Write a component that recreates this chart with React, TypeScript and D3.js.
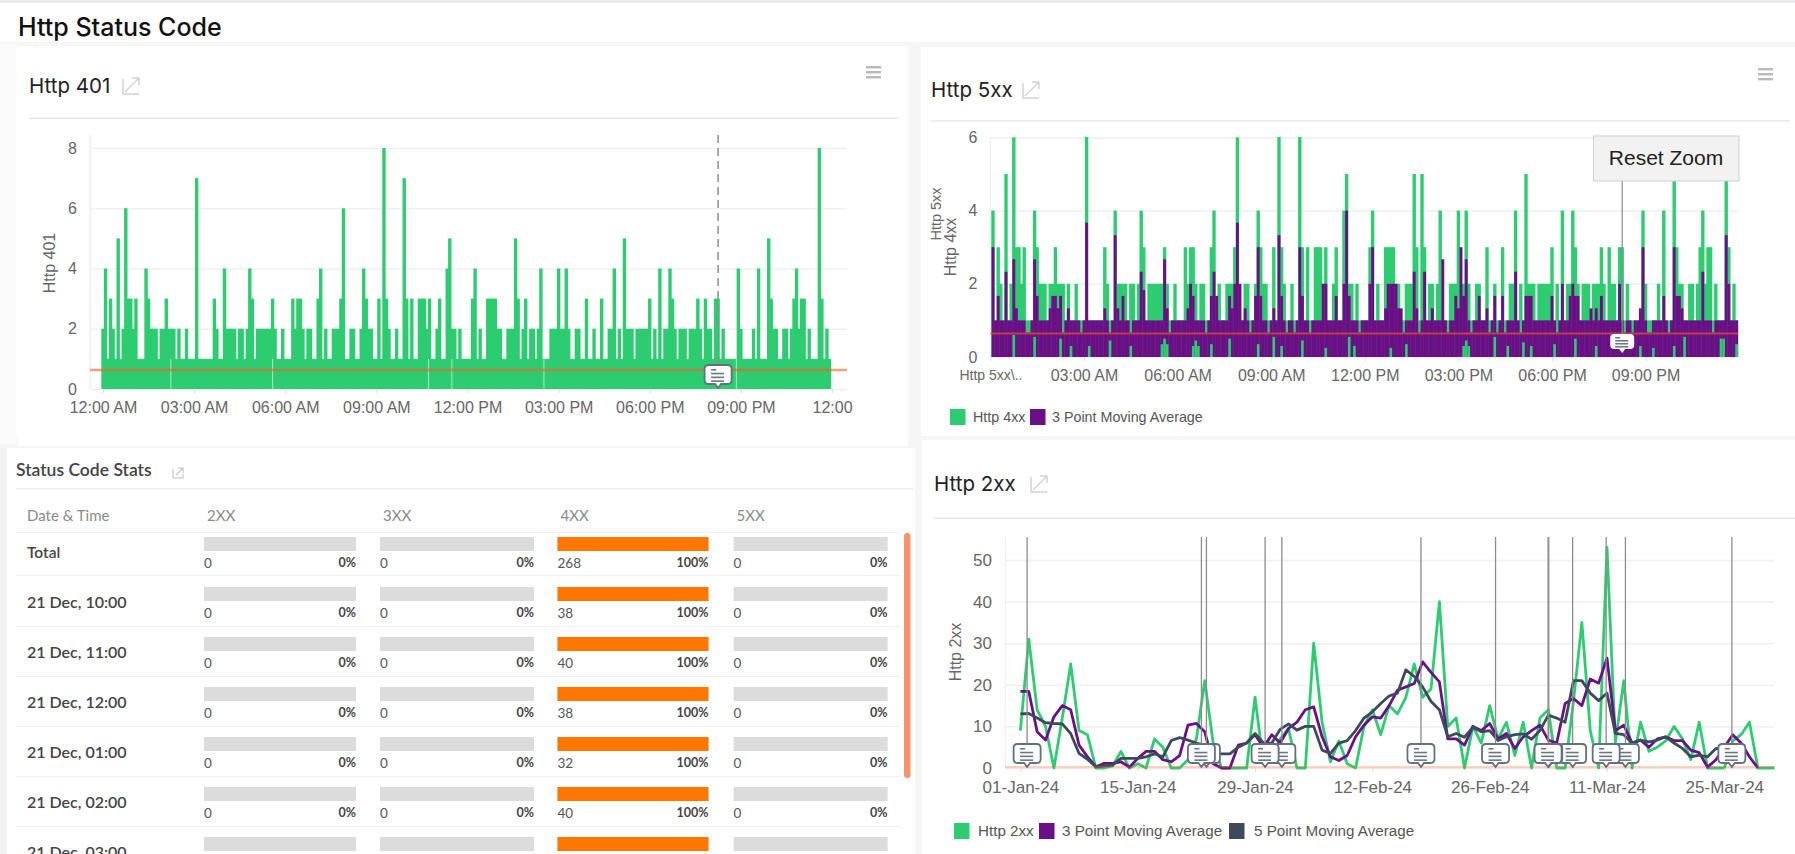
import React, { useRef, useEffect } from "react";
import * as d3 from "d3";

// 5 minute slots, Http 401 panel (Http 4xx panel reuses them, zoomed one slot in)
const http401 = [
  2,4,1,3,2,1,5,1,2,6, 3,3,2,3,1,1,1,4,3,2, 2,2,1,2,2,3,2,2,2,1, 2,1,1,2,1,1,1,7,1,1,
  1,1,1,1,3,2,1,1,4,2, 2,2,2,1,2,2,1,2,4,3, 1,2,2,2,2,2,2,3,2,1, 1,2,1,1,1,3,2,3,3,2,
  1,2,2,1,1,3,4,1,2,1, 1,2,2,2,3,6,1,1,2,2, 1,1,2,4,3,2,2,1,1,3, 1,8,3,2,1,1,2,1,1,7,
  3,1,3,1,1,3,3,3,2,3, 1,1,2,3,1,1,4,5,2,2, 1,2,1,1,1,1,3,4,1,2, 1,1,3,3,3,3,2,2,1,1,
  2,2,2,5,3,1,2,3,1,2, 2,1,2,4,1,1,1,2,2,2, 4,2,2,4,2,1,1,2,2,1, 1,3,1,1,2,1,1,3,1,1,
  2,2,4,1,2,1,5,2,2,2, 1,2,2,2,2,2,3,1,2,1, 4,1,2,2,4,3,2,1,2,2, 2,1,2,2,2,3,2,1,3,2,
  2,1,3,3,1,2,1,1,1,1, 1,4,2,1,1,1,1,2,1,4, 1,1,1,5,3,2,2,1,1,2, 2,1,2,3,4,2,3,3,1,2,
  1,1,1,8,3,1,2,1,
];
const http4xx = http401.map((v, i) => (i === 166 ? 5 : v));
const http4xxAverage = [
  0,3,1,1.67,1,1,2.33,1,1,2.67, 1.33,1,1,1,0.67,0.67,1,2.67,1.67,1,
  1,1,1,1.33,1.67,1.67,1.33,1.67,0.67,1, 1.33,1,1,1,1,0.67,1,3.67,1,1,
  1,1,1,1,1.33,1,0.67,1,3.33,1.33, 1,1.67,1,1,0.67,1,1,1,2.33,1.83,
  1,1,1,1,1,1,1,2.67,1.33,0.67, 1,1,1,1,1,1,1.33,2,1.67,1,
  1,1,1,0.67,1,1.67,2.33,1.67,1,1, 1,1,1.67,1.33,2,3.67,2,1,1.33,1,
  0.67,1,1.67,3,1.67,1,1,0.67,1,1.33, 1,3.33,1.67,1,0.67,1,1,0.67,1,3,
  1.67,1,1,0.67,1,1,1,1,2,2, 1,1,1,1.67,1,1,2,4,1.67,1,
  1,1,0.67,1,1,1,2,3,1,1, 1,1,1.33,2,2,2,2,1.33,1.33,0.67,
  1,1,1,2.33,1.33,0.67,1,2.33,1,1, 1.33,1,1,1,2.67,1,0.67,1,1,1.67,
  1.33,3,1.67,2.67,1,0.67,1,1,1.67,1, 1,1.33,0.67,1,1.67,0.67,1,1.67,0.67,1,
  1,1,2.33,1,0.67,1,1.67,1.67,1.67,1, 1,1,1,1,1,1,1.67,1,0.67,1,
  2,1,1,1.67,2,1.67,1.67,1,1,1, 1,1.33,1,1.33,1,1.67,1,1,1,1,
  1,1,2,1,0.67,1,1,0.67,1,1, 1.33,3,1,0.67,0.67,1,1,1,1,1.67,
  1,0.67,1,3,1.67,1.67,1.33,1,1,1, 1,1,1,1,2.33,1,1,1,0.67,1,
  1,1,1,3.33,2,1,1,1,
];
// slots where the green still shows under the purple, and how far up it shows
const averageLowSlots = [9,17,27,31,38,46,54,66,67,68,78,79,80,85,92,103,109,112,120,129,138,140,154,160,182,183,184,194,199,205,208,217,225,233,250,255,263,267,281,282,287];
const averageLowValues = [0.6,0.55,0.5,0.3,0.3,0.45,0.3,0.35,0.5,0.35,0.3,0.45,0.3,0.35,0.5,0.35,0.55,0.3,0.45,0.25,0.55,0.3,0.25,0.35,0.3,0.45,0.3,0.55,0.3,0.4,0.3,0.35,0.5,0.3,0.3,0.25,0.3,0.55,0.5,0.5,0.35];
const slotGapMinutes = [134,335,643,689,871,1251];
const annotationHour = 20.25;
const http401Average = 0.63;
const http4xxLineValue = 0.64;

const dailyDayTicks = [0,14,28,42,56,70,84];
const dailyTickLabels = ["01-Jan-24","15-Jan-24","29-Jan-24","12-Feb-24","26-Feb-24","11-Mar-24","25-Mar-24"];
const http2xx = [
  9,31,14,10,0,12,25,9,8,0, 0,0.5,4,0,1,0,7,5,0,0, 2,7,21,6,0,0,0,0,17,1,
  3,7,9.5,0,0,30,11,1.5,6.5,1, 0,10,14,8,15,13,17,25,17,19, 40,10,12,0,10,6,15,7,11,3,
  11,0,12,14,0,0,16,35,9,0, 53,6,21,0,11,4,5,6.5,10,7, 2,11,0,0,0,6.5,8,11,0,0,0,
];
const http2xx3pt = [
  18.4,18.4,8.7,6.7,12.3,15,14,5.5,2.7,0.3, 1.1,1.1,1.5,0.2,2.3,4,4,2,1.5,3,
  10.3,10.7,8.7,1,0,0,5.5,6,8,5, 8,6,9.5,11,14,14.7,7.5,2.7,1.8,3,
  7.5,10.3,12.3,12,15,18.7,19.5,20.3,25.5,23, 20.7,7,7,5.5,10,9,10.7,7,8.3,4.7,
  7.5,9,10.3,6.7,6,15.5,16.7,15,21.4,20.4, 26.4,9,10.3,6,6.7,5,7,7.5,6.6,6.6,
  4.3,3.7,0.2,2,5,8,6,2.7,0,
];
const http2xx5pt = [
  13,13.1,12,10.9,10.7,10.6,8.3,3.5,2.1,0.3, 0.5,0.7,2.3,2.3,2.3,2.7,3.4,2.7,6.6,7.3,
  6.7,6,5.5,3.5,3.4,3.4,5,6,8.3,6, 6,9.3,10.6,9.1,10,10,4.3,3.5,6,6.6,
  9,12,13.5,15.5,17.3,18,23.6,22,19.5,16, 14,7.5,8.3,7.4,9.8,8.7,9,6.6,7.5,8,
  8.2,6.9,9,12.7,12,11,21,21,18,16.2, 18,8.3,8,6,6.7,6.3,6.7,7.5,6,4.7,
  2.7,3.1,2.7,4.7,4.5,5,
];
const annotationDays = [0.8,21.6,22.2,29.2,31.2,47.8,56.7,62.97,63.05,65.9,69.9,72.2,84.9];
const http2xxLineValue = 0.2;

const tableColumns = ["2XX","3XX","4XX","5XX"];
const tableRows = ["Total","21 Dec, 10:00","21 Dec, 11:00","21 Dec, 12:00","21 Dec, 01:00","21 Dec, 02:00","21 Dec, 03:00"];
// the 03:00 row is cut off by the page, its numbers cannot be read
const count2xx = [0,0,0,0,0,0];
const count3xx = [0,0,0,0,0,0];
const count4xx = [268,38,40,38,32,40];
const count5xx = [0,0,0,0,0,0];
const percent2xx = [0,0,0,0,0,0,0];
const percent3xx = [0,0,0,0,0,0,0];
const percent4xx = [100,100,100,100,100,100,100];
const percent5xx = [0,0,0,0,0,0,0];

const hourTicks = [0,3,6,9,12,15,18,21,24];
const hourLabels = ["12:00 AM","03:00 AM","06:00 AM","09:00 AM","12:00 PM","03:00 PM","06:00 PM","09:00 PM","12:00"];
const zoomedLabels = ["Http 5xx\\..","03:00 AM","06:00 AM","09:00 AM","12:00 PM","03:00 PM","06:00 PM","09:00 PM"];

const GREEN = "#2ecc71";
const PURPLE = "#6b0f86";
const SLATE = "#3d4a5c";
const ORANGE = "#ff5a1e";
const SANS = "'Liberation Sans', Arial, sans-serif";
const TITLE = "Inter, 'Liberation Sans', sans-serif";
const LATO = "Lato, sans-serif";

const dayStart = new Date(2023, 11, 21, 0, 0);
const slotTime = (i: number) => d3.timeMinute.offset(dayStart, i * 5);
const hourTime = (h: number) => d3.timeMinute.offset(dayStart, h * 60);
const jan1 = new Date(2024, 0, 1);
const dayTime = (d: number) => new Date(+jan1 + d * 864e5);

const x401 = d3.scaleTime().domain([dayStart, hourTime(24)]).range([103, 832]);
const y401 = d3.scaleLinear().domain([0, 8]).range([389, 148]);
const x4xx = d3.scaleTime().domain([dayStart, hourTime(24)]).range([990.4, 1739.2]);
const y4xx = d3.scaleLinear().domain([0, 6]).range([357, 137.4]);
const x2xx = d3.scaleTime().domain([jan1, dayTime(90)]).range([1020.4, 1774.6]);
const y2xx = d3.scaleLinear().domain([0, 50]).range([768, 560]);

const BAR_W = 3.4;
const AVG_W = 2.9;

const AxisBottom = ({ scale, values, labels, y, size, firstSize }: any) => {
  const ref = useRef<SVGGElement>(null);
  useEffect(() => {
    const axis = d3
      .axisBottom(scale)
      .tickValues(values)
      .tickSize(4)
      .tickPadding(9)
      .tickFormat((_: any, i: number) => labels[i]);
    const g = d3.select(ref.current as SVGGElement).call(axis as any);
    g.select(".domain").remove();
    g.selectAll(".tick line").attr("stroke", "#dedede");
    g.selectAll(".tick text")
      .attr("fill", "#666")
      .style("font-family", SANS)
      .style("font-size", (_: any, i: number) => (i === 0 && firstSize ? firstSize : size) + "px");
  }, []);
  return <g ref={ref} transform={`translate(0,${y})`} />;
};

const AxisLeft = ({ scale, values, x, size, gridTo }: any) => {
  const ref = useRef<SVGGElement>(null);
  useEffect(() => {
    const axis = d3
      .axisLeft(scale)
      .tickValues(values)
      .tickSize(0)
      .tickPadding(13)
      .tickFormat(d3.format("d") as any);
    const g = d3.select(ref.current as SVGGElement).call(axis as any);
    g.select(".domain").remove();
    g.selectAll(".tick line")
      .attr("x2", gridTo - x)
      .attr("stroke", "#f0f0f0")
      .attr("stroke-width", 1.6);
    g.selectAll(".tick text")
      .attr("fill", "#666")
      .style("font-family", SANS)
      .style("font-size", size + "px");
  }, []);
  return <g ref={ref} transform={`translate(${x},0)`} />;
};

const PanelTitle = ({ x, y, text, iconX, lineTo, lineY, size = 20.5 }: any) => (
  <g>
    <text x={x} y={y} fontFamily={TITLE} fontSize={size} fill="#222">
      {text}
    </text>
    <path
      d={`M${iconX} ${y - 14}v15h16 M${iconX + 9} ${y - 15}h7 M${iconX + 16} ${y - 15}v7 M${iconX + 2} ${y - 1}L${iconX + 16} ${y - 15}`}
      fill="none"
      stroke="#d2d2d2"
      strokeWidth={1.4}
    />
    <rect x={x} y={lineY} width={lineTo - x} height={1.6} fill="#e9e9e9" />
  </g>
);

const Menu = ({ x, y }: any) => (
  <g fill="#b9b9b9">
    {[0, 5, 10].map((d) => (
      <rect key={d} x={x} y={y + d} width={15} height={2.4} />
    ))}
  </g>
);

const Note = ({ cx, bottom, border }: any) => {
  const w = border ? 27 : 24;
  const h = border ? 19 : 15;
  const top = bottom - h - 4;
  return (
    <g>
      <path
        d={`M${cx - w / 2 + 4} ${top}h${w - 8}q4 0 4 4v${h - 8}q0 4 -4 4h${-(w / 2 - 7)}l-3 4l-3 -4h${-(w / 2 - 7)}q-4 0 -4 -4v${-(h - 8)}q0 -4 4 -4z`}
        fill="#fff"
        stroke={border ? "#647080" : "none"}
        strokeWidth={1.8}
      />
      {[
        [0.25, 5],
        [0.45, 13],
        [0.65, 13],
        [0.85, 13],
      ].map(([f, len], i) => (
        <rect
          key={i}
          x={cx - 7}
          y={top + h * f - 0.8}
          width={len}
          height={1.6}
          fill="#6b7683"
        />
      ))}
    </g>
  );
};

const Legend = ({ items, y, size }: any) => (
  <g>
    {items.map((d: any) => (
      <g key={d.label}>
        <rect x={d.x} y={y - 8} width={15.5} height={16} fill={d.color} />
        <text x={d.textX} y={y + 5} fontFamily={SANS} fontSize={size} fill="#555">
          {d.label}
        </text>
      </g>
    ))}
  </g>
);

const StatsTable = () => {
  const rowY = d3.scaleLinear().domain([0, 1]).range([537, 587]);
  const colX = d3.scaleOrdinal<string, number>().domain(tableColumns).range([204, 380, 557.5, 733.6]);
  const colW = d3.scaleOrdinal<string, number>().domain(tableColumns).range([152, 154, 151, 154]);
  const counts = [count2xx, count3xx, count4xx, count5xx];
  const percents = [percent2xx, percent3xx, percent4xx, percent5xx];
  const seps = [532, 575, 626, 676, 726, 776, 826];
  return (
    <g fontFamily={LATO}>
      <text x={16} y={476} fontSize={17.5} fontWeight={600} fill="#444">
        Status Code Stats
      </text>
      <path d="M173 469v9h10v-4 M178 468h5v5 M176 475l7-7" fill="none" stroke="#c4c4c4" strokeWidth={1.1} />
      <rect x={16} y={488} width={898} height={1.6} fill="#ececec" />
      <text x={27} y={521} fontSize={15} fill="#8a8a8a">
        Date &amp; Time
      </text>
      {tableColumns.map((c) => (
        <text key={c} x={colX(c) + 3} y={521} fontSize={15} fill="#8a8a8a">
          {c}
        </text>
      ))}
      {seps.map((y) => (
        <rect key={y} x={16} y={y} width={885} height={1} fill="#f1f1f1" />
      ))}
      {tableRows.map((row, r) => (
        <g key={row}>
          <text x={27} y={rowY(r) + 21} fontSize={r === 0 ? 15.5 : 16} fontWeight={600} fill="#444">
            {row}
          </text>
          {tableColumns.map((c, k) => {
            const w = d3.scaleLinear().domain([0, 100]).range([0, colW(c)]);
            return (
              <g key={c}>
                <rect x={colX(c)} y={rowY(r)} width={colW(c)} height={14} fill="#dcdcdc" />
                <rect x={colX(c)} y={rowY(r)} width={w(percents[k][r])} height={14} fill="#ff7700" />
                {r < counts[k].length && (
                  <>
                    <text x={colX(c)} y={rowY(r) + 31} fontSize={13.5} fill="#555">
                      {counts[k][r]}
                    </text>
                    <text
                      x={colX(c) + colW(c)}
                      y={rowY(r) + 30}
                      textAnchor="end"
                      fontSize={12.5}
                      fontWeight={700}
                      fill="#444"
                    >
                      {percents[k][r]}%
                    </text>
                  </>
                )}
              </g>
            );
          })}
        </g>
      ))}
      <rect x={904} y={533} width={6.5} height={245} rx={3} fill="#f4956a" />
    </g>
  );
};

export default function App() {
  const hourValues = hourTicks.map(hourTime);
  const line2xx = d3
    .line<number>()
    .x((_, i) => x2xx(dayTime(i)))
    .y((v) => y2xx(v));

  const annotationX401 = x401(hourTime(annotationHour));
  const annotationX4xx = x4xx(hourTime(annotationHour));

  return (
    <svg
      width={1795}
      height={854}
      style={{ position: "absolute", left: 0, top: 0, display: "block" }}
    >
      <defs>
        <clipPath id="clip4xx">
          <rect x={985} y={137} width={760} height={221} />
        </clipPath>
      </defs>
      <rect width={1795} height={854} fill="#fff" />
      <rect width={1795} height={3} fill="#e9ebef" />
      <rect x={0} y={42} width={1795} height={5} fill="#f6f6f7" />
      <rect x={908} y={44} width={13} height={396} fill="#f6f6f7" />
      <rect x={0} y={436} width={1795} height={12} fill="#f6f6f7" />
      <rect x={0} y={44} width={17} height={400} fill="#fbfbfb" />
      <rect x={0} y={448} width={7} height={406} fill="#f4f4f5" />
      <rect x={915} y={440} width={8} height={414} fill="#f6f6f7" />
      <rect x={922} y={440} width={873} height={414} fill="#fff" />
      <rect x={18} y={46} width={890} height={400} fill="#fff" />
      <rect x={7} y={449} width={908} height={405} fill="#fff" />

      <text x={18} y={36} fontFamily={TITLE} fontSize={25} fontWeight={500} fill="#111">
        Http Status Code
      </text>

      {/* Http 401 */}
      <PanelTitle x={29} y={93} text="Http 401" iconX={123} lineTo={898} lineY={117.5} />
      <Menu x={866} y={66} />
      <rect x={89.5} y={135} width={1.4} height={254} fill="#f0f0f0" />
      <AxisLeft scale={y401} values={[0, 2, 4, 6, 8]} x={90} size={16} gridTo={847} />
      {http401.map((v, i) => (
        <rect
          key={i}
          x={x401(slotTime(i)) - BAR_W / 2}
          y={y401(v)}
          width={BAR_W}
          height={y401(0) - y401(v)}
          fill={GREEN}
        />
      ))}
      {slotGapMinutes.map((m) => (
        <line
          key={m}
          x1={x401(d3.timeMinute.offset(dayStart, m))}
          x2={x401(d3.timeMinute.offset(dayStart, m))}
          y1={y401(1)}
          y2={y401(0)}
          stroke="#fff"
          strokeOpacity={0.6}
        />
      ))}
      <line x1={90} x2={847} y1={y401(http401Average)} y2={y401(http401Average)} stroke={ORANGE} strokeOpacity={0.6} strokeWidth={2.4} />
      <line x1={annotationX401} x2={annotationX401} y1={135} y2={366} stroke="#8c8c8c" strokeWidth={1.5} strokeDasharray="8 5" />
      <Note cx={annotationX401} bottom={388} border />
      <AxisBottom scale={x401} values={hourValues} labels={hourLabels} y={389} size={16} />
      <text transform="translate(55,263) rotate(-90)" textAnchor="middle" fontFamily={SANS} fontSize={16} fill="#666">
        Http 401
      </text>

      {/* Http 5xx */}
      <PanelTitle x={931} y={97} text="Http 5xx" iconX={1023} lineTo={1790} lineY={120} />
      <Menu x={1758} y={68} />
      <rect x={989.7} y={137} width={1.4} height={220} fill="#f0f0f0" />
      <AxisLeft scale={y4xx} values={[0, 2, 4, 6]} x={990.4} size={16} gridTo={1738} />
      <g clipPath="url(#clip4xx)">
        {http4xx.map((v, i) =>
          i === 0 ? null : (
            <rect
              key={i}
              x={x4xx(slotTime(i)) - BAR_W / 2}
              y={y4xx(v)}
              width={BAR_W}
              height={y4xx(0) - y4xx(v)}
              fill={GREEN}
            />
          )
        )}
        {http4xxAverage.map((v, i) =>
          i === 0 ? null : (
            <rect
              key={i}
              x={x4xx(slotTime(i)) - AVG_W / 2}
              y={y4xx(v)}
              width={AVG_W}
              height={y4xx(0) - y4xx(v)}
              fill={PURPLE}
            />
          )
        )}
        {averageLowSlots.map((s, i) => (
          <rect
            key={s}
            x={x4xx(slotTime(s)) - 1.3}
            y={y4xx(averageLowValues[i])}
            width={2.6}
            height={y4xx(0) - y4xx(averageLowValues[i])}
            fill={GREEN}
          />
        ))}
      </g>
      <line x1={990} x2={1738} y1={y4xx(http4xxLineValue)} y2={y4xx(http4xxLineValue)} stroke={ORANGE} strokeOpacity={0.6} strokeWidth={2} />
      <line x1={annotationX4xx} x2={annotationX4xx} y1={181} y2={336} stroke="#8c8c8c" strokeWidth={1.2} />
      <Note cx={annotationX4xx} bottom={353} />
      <AxisBottom scale={x4xx} values={hourValues.slice(0, 8)} labels={zoomedLabels} y={357} size={16} firstSize={14} />
      <text transform="translate(941,214) rotate(-90)" textAnchor="middle" fontFamily={SANS} fontSize={14.5} fill="#666">
        Http 5xx
      </text>
      <text transform="translate(956,247) rotate(-90)" textAnchor="middle" fontFamily={SANS} fontSize={16} fill="#666">
        Http 4xx
      </text>
      <rect x={1593.5} y={136} width={145.5} height={45} fill="#f2f2f2" stroke="#cfcfcf" />
      <text x={1666} y={165} textAnchor="middle" fontFamily={SANS} fontSize={21} fill="#222">
        Reset Zoom
      </text>
      <Legend
        y={417}
        size={14.3}
        items={[
          { label: "Http 4xx", color: GREEN, x: 950, textX: 973 },
          { label: "3 Point Moving Average", color: PURPLE, x: 1030, textX: 1052 },
        ]}
      />

      {/* Status Code Stats */}
      <StatsTable />

      {/* Http 2xx */}
      <PanelTitle x={934} y={491} text="Http 2xx" iconX={1031} lineTo={1795} lineY={517.5} />
      <rect x={1004.7} y={537} width={1.4} height={231} fill="#f0f0f0" />
      <AxisLeft scale={y2xx} values={[0, 10, 20, 30, 40, 50]} x={1005} size={17} gridTo={1774} />
      <path d={line2xx(http2xx) as string} fill="none" stroke={GREEN} strokeWidth={2.8} strokeLinejoin="round" />
      <path d={line2xx(http2xx3pt) as string} fill="none" stroke={PURPLE} strokeWidth={2.8} strokeLinejoin="round" />
      <path d={line2xx(http2xx5pt) as string} fill="none" stroke={SLATE} strokeWidth={2.8} strokeLinejoin="round" />
      <line x1={1005} x2={1774} y1={y2xx(http2xxLineValue)} y2={y2xx(http2xxLineValue)} stroke={ORANGE} strokeOpacity={0.28} strokeWidth={2.4} />
      {annotationDays.map((d) => (
        <line key={d} x1={x2xx(dayTime(d))} x2={x2xx(dayTime(d))} y1={537} y2={745} stroke="#8c8c8c" strokeWidth={1.3} />
      ))}
      {[...annotationDays].reverse().map((d) => (
        <Note key={d} cx={x2xx(dayTime(d))} bottom={767} border />
      ))}
      <AxisBottom scale={x2xx} values={dailyDayTicks.map(dayTime)} labels={dailyTickLabels} y={768} size={17} />
      <text transform="translate(961,652) rotate(-90)" textAnchor="middle" fontFamily={SANS} fontSize={16} fill="#666">
        Http 2xx
      </text>
      <Legend
        y={831}
        size={15.2}
        items={[
          { label: "Http 2xx", color: GREEN, x: 954, textX: 978 },
          { label: "3 Point Moving Average", color: PURPLE, x: 1039, textX: 1062 },
          { label: "5 Point Moving Average", color: SLATE, x: 1229, textX: 1254 },
        ]}
      />
    </svg>
  );
}
